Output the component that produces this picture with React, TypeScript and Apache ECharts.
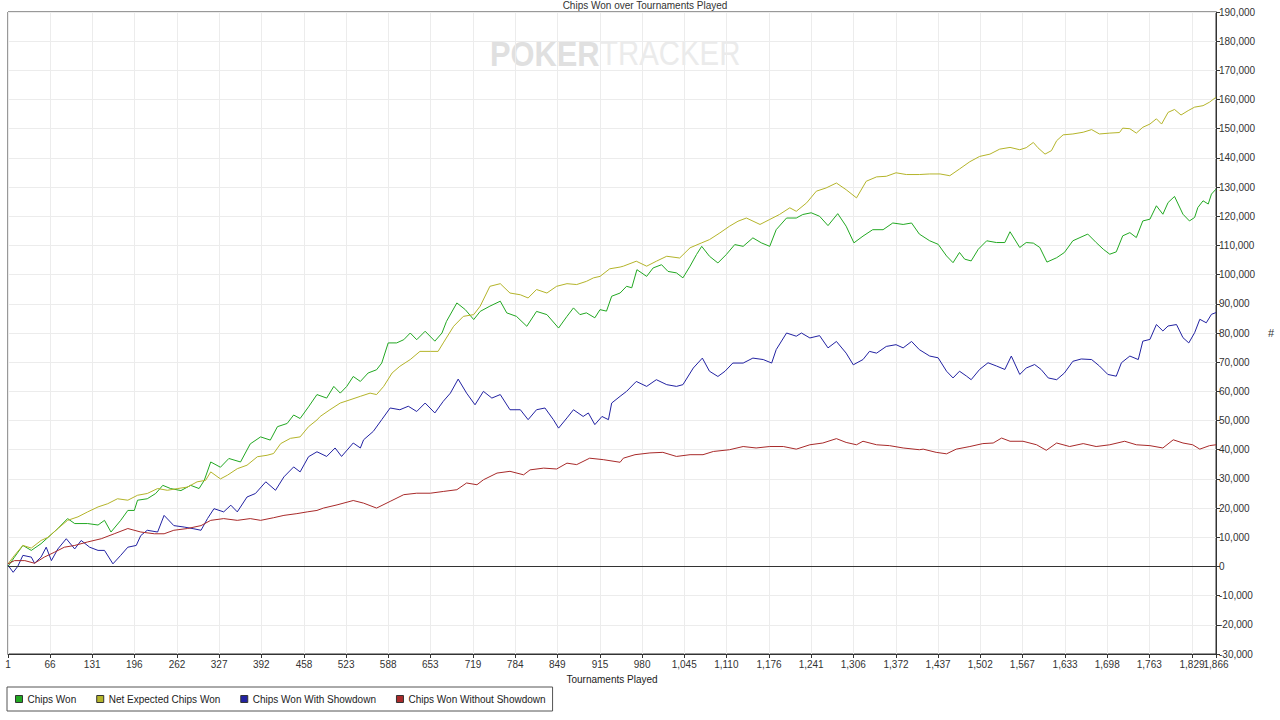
import React, { useEffect, useRef } from "react";
import * as echarts from "echarts";

const chartTitle = "Chips Won over Tournaments Played";
const xAxisName = "Tournaments Played";
const yAxisName = "#";
const seriesNames = ["Chips Won", "Net Expected Chips Won", "Chips Won With Showdown", "Chips Won Without Showdown"];
const seriesColors = ["#22a822", "#b4b42a", "#2222a2", "#a82a2a"];
const xTickLabels = [1, 66, 131, 196, 262, 327, 392, 458, 523, 588, 653, 719, 784, 849, 915, 980, 1045, 1110, 1176, 1241, 1306, 1372, 1437, 1502, 1567, 1633, 1698, 1763, 1829, 1866];

// [tournament, chips]
const chipsWon = [
  [1, 0], [11, 3200], [24, 7200], [37, 5500], [52, 7800], [68, 11000], [78, 13000], [93, 16400], [104, 14700], [124, 14700], [140, 14200], [150, 15800], [160, 11800], [175, 15800], [186, 19200], [196, 19200], [201, 22700], [216, 23200], [229, 25000], [240, 27800], [252, 26700], [268, 26000], [283, 27800], [296, 26700], [304, 29500], [314, 35800], [329, 34000], [342, 37000], [360, 35800], [375, 42000], [391, 44400], [406, 43300], [417, 47900], [432, 49000], [442, 51900], [452, 50700], [465, 54700],
  [478, 58900], [493, 57700], [504, 61700], [514, 59400], [524, 61700], [534, 65100], [545, 63400], [557, 66300], [570, 67400], [578, 69700], [588, 76600], [601, 76600], [612, 77700], [622, 80000], [632, 77700], [645, 80600], [660, 77200], [671, 80000], [678, 84000], [694, 90300], [707, 88000], [720, 84600], [730, 87400], [745, 89200], [761, 90900], [771, 86900], [786, 85700], [802, 82300], [817, 87400], [833, 86300], [851, 81700], [864, 85700], [874, 88600], [884, 86300], [894, 86900], [907, 85200], [915, 88000], [925, 87500], [933, 92600], [946, 93700],
  [956, 96000], [964, 95500], [972, 101700], [987, 99400], [997, 102300], [1010, 103400], [1020, 101100], [1033, 100600], [1043, 98900], [1054, 102900], [1064, 106900], [1072, 109700], [1084, 106300], [1097, 104000], [1110, 106900], [1123, 110300], [1136, 109700], [1151, 112600], [1164, 110900], [1177, 109700], [1187, 115400], [1203, 119400], [1218, 119400], [1228, 120600], [1241, 121200], [1254, 120000], [1267, 116800], [1282, 120900], [1295, 116600], [1307, 110900], [1321, 113200], [1336, 115400], [1352, 115400], [1367, 117700], [1383, 117200], [1396, 117700],
  [1408, 113900], [1424, 111600], [1437, 110400], [1450, 106400], [1460, 104100], [1470, 107600], [1478, 105300], [1488, 104700], [1499, 108700], [1512, 111600], [1527, 111000], [1540, 111000], [1548, 114700], [1563, 109300], [1573, 111000], [1584, 110800], [1594, 109300], [1605, 104300], [1620, 105800], [1632, 107600], [1645, 111600], [1656, 112700], [1668, 113900], [1681, 111000], [1692, 108700], [1702, 107000], [1712, 107800], [1722, 113300], [1733, 114400], [1743, 112700], [1753, 118400], [1764, 119000], [1774, 123600], [1784, 120700], [1792, 124700], [1802, 126800], [1815, 120700], [1825, 118400], [1833, 119600], [1838, 123000], [1846, 125300], [1854, 124200], [1859, 127600], [1866, 129300],
];

const netExpected = [
  [1, 900], [11, 3800], [24, 7200], [37, 6300], [52, 8900], [63, 10000], [78, 13000], [93, 15800], [109, 17000], [124, 18700], [140, 20400], [155, 21500], [170, 23200], [186, 22700], [201, 24400], [216, 25000], [232, 26700], [247, 26100], [263, 26700], [278, 27200], [293, 29000], [306, 29500], [314, 32400], [329, 30000], [340, 31300], [355, 33500], [370, 34700], [386, 37600], [401, 38100], [411, 38700], [422, 42100], [437, 43900], [452, 44400], [465, 47900], [478, 50200],
  [483, 51400], [498, 53700], [514, 56000], [529, 57100], [545, 58300], [560, 59400], [570, 58900], [581, 61700], [594, 66300], [606, 68600], [622, 70900], [637, 73700], [653, 73700], [665, 73700], [673, 76600], [689, 82300], [704, 85700], [720, 86300], [730, 89200], [745, 96000], [761, 96900], [776, 93700], [792, 93100], [804, 92000], [817, 94900], [833, 93700], [848, 96000], [864, 96900], [879, 96600], [894, 97700], [905, 98900], [915, 99400], [930, 102000], [946, 102600],
  [951, 102900], [971, 104600], [987, 102900], [1002, 104600], [1018, 106300], [1038, 105700], [1054, 109200], [1072, 110900], [1084, 112000], [1100, 114300], [1115, 116600], [1128, 118300], [1141, 119400], [1162, 117200], [1177, 118900], [1192, 120600], [1208, 122900], [1218, 121700], [1234, 124600], [1249, 128600], [1264, 129700], [1280, 131400], [1295, 129100], [1311, 126300], [1326, 132000], [1342, 133500], [1357, 133700], [1372, 134900], [1388, 134300], [1408, 134300],
  [1424, 134500], [1440, 134500], [1455, 133900], [1470, 136200], [1486, 138700], [1501, 140500], [1517, 141300], [1532, 143000], [1548, 143600], [1563, 142800], [1573, 143500], [1584, 145300], [1591, 143500], [1602, 141300], [1612, 142500], [1620, 145900], [1630, 147900], [1645, 148200], [1661, 148800], [1674, 149700], [1686, 148200], [1702, 148500], [1717, 148700], [1722, 150200], [1733, 150000], [1743, 148500], [1753, 150500], [1764, 151600], [1774, 153400], [1782, 151600], [1792, 155600], [1802, 156600], [1812, 154700], [1823, 156200], [1833, 157400], [1846, 157900], [1856, 159100], [1866, 160800],
];

const withShowdown = [
  [1, 400], [9, -2000], [16, 0], [24, 3800], [37, 3200], [42, 1100], [52, 3200], [60, 6600], [68, 2000], [78, 6000], [91, 9500], [104, 6000], [114, 8900], [127, 6600], [140, 5500], [150, 5500], [163, 900], [175, 3800], [186, 6600], [199, 7200], [206, 10600], [216, 12400], [232, 11800], [242, 17500], [257, 14000], [273, 13500], [288, 12900], [299, 12400], [309, 16400], [319, 19800], [334, 18700], [345, 21000], [355, 18700], [370, 23800], [383, 25000], [399, 29000], [414, 26100], [427, 30700], [442, 34100], [452, 32400], [465, 37600], [478, 39300],
  [493, 37700], [506, 40600], [516, 37700], [534, 42300], [545, 40600], [550, 43400], [565, 46300], [578, 50300], [591, 54300], [606, 53700], [619, 54900], [632, 53100], [645, 56000], [660, 52600], [673, 56600], [684, 59400], [696, 64200], [709, 59400], [722, 55400], [735, 60000], [748, 57700], [761, 58900], [776, 53700], [792, 53700], [804, 50300], [817, 53700], [830, 54300], [843, 50300], [851, 47400], [864, 50900], [874, 53700], [889, 51400], [897, 52600], [907, 48600], [918, 51400], [928, 50300], [933, 56000], [946, 58300],
  [956, 60000], [971, 63400], [987, 61700], [1002, 64000], [1018, 62300], [1033, 61700], [1043, 62300], [1059, 68000], [1073, 71400], [1084, 66900], [1097, 65100], [1108, 66900], [1120, 69700], [1136, 69700], [1151, 71400], [1167, 70900], [1180, 69700], [1187, 74300], [1203, 80000], [1218, 78900], [1226, 80000], [1239, 78300], [1254, 79100], [1267, 74900], [1280, 77100], [1295, 73100], [1306, 69100], [1321, 70900], [1331, 73700], [1342, 73100], [1357, 75400], [1372, 76000], [1383, 74900], [1396, 77100], [1408, 74300],
  [1424, 72100], [1437, 71500], [1450, 66900], [1460, 64600], [1470, 66900], [1481, 65200], [1488, 64000], [1501, 67500], [1514, 69800], [1527, 68700], [1540, 67500], [1550, 72100], [1563, 65800], [1573, 68000], [1586, 69200], [1596, 67500], [1607, 64600], [1620, 64000], [1632, 66300], [1645, 70300], [1658, 71100], [1674, 70900], [1686, 68700], [1699, 65800], [1712, 65200], [1720, 69800], [1733, 72100], [1746, 70900], [1753, 77200], [1764, 77800], [1774, 82900], [1784, 80700], [1792, 82400], [1805, 82900], [1815, 78400], [1824, 76600], [1833, 80100], [1841, 84700], [1851, 83500], [1859, 86400], [1866, 87000],
];

const withoutShowdown = [
  [1, 900], [11, 2000], [27, 2000], [42, 1100], [57, 3200], [73, 4900], [88, 6600], [104, 7200], [124, 8400], [145, 9500], [165, 11200], [186, 13000], [206, 11800], [227, 11200], [242, 11200], [257, 12400], [278, 13000], [299, 14000], [314, 15800], [334, 16400], [355, 15800], [375, 16400], [391, 15800], [411, 16700], [427, 17500], [447, 18100], [463, 18700], [478, 19200],
  [488, 20000], [509, 21100], [534, 22600], [550, 21700], [570, 20000], [591, 22300], [612, 24600], [632, 25100], [653, 25100], [673, 25700], [694, 26300], [709, 28600], [725, 28000], [735, 29700], [756, 32000], [776, 32600], [797, 31400], [807, 33100], [828, 33700], [848, 33400], [864, 35400], [879, 34900], [899, 37100], [920, 36600], [946, 35700],
  [951, 37100], [969, 38300], [992, 38900], [1012, 39100], [1033, 37700], [1054, 38300], [1074, 38300], [1090, 39400], [1115, 40000], [1136, 41100], [1156, 40600], [1177, 41100], [1198, 41100], [1218, 40200], [1239, 41700], [1259, 42300], [1280, 43800], [1295, 42500], [1311, 41700], [1321, 42900], [1342, 41700], [1362, 41400], [1383, 40600], [1408, 40000],
  [1414, 40200], [1434, 39100], [1450, 38600], [1465, 40200], [1486, 41100], [1506, 42100], [1522, 42300], [1535, 44000], [1548, 42900], [1568, 42900], [1589, 41700], [1604, 39800], [1620, 42300], [1640, 41100], [1661, 42100], [1681, 41100], [1702, 41700], [1725, 42900], [1743, 41700], [1764, 41400], [1784, 40600], [1800, 43400], [1815, 42300], [1830, 41700], [1841, 40200], [1856, 41400], [1866, 41700],
];

const seriesData = [chipsWon, netExpected, withShowdown, withoutShowdown];

const FONT = "'Liberation Sans', Arial, sans-serif";
const fmt = (v: number) => Math.round(v).toLocaleString("en-US");

export default function App() {
  const ref = useRef<HTMLDivElement>(null);
  useEffect(() => {
    if (!ref.current) return;
    const chart = echarts.init(ref.current, undefined, { renderer: "svg" });
    const xMin = xTickLabels[0];
    const xMax = xTickLabels[xTickLabels.length - 1];
    const labelStyle = { fontSize: 10, color: "#333", margin: 5, formatter: (v: number) => fmt(v) };
    const option: any = {
      animation: false,
      backgroundColor: "#ffffff",
      textStyle: { fontFamily: FONT },
      grid: {
        left: 8,
        right: 64,
        top: 12,
        bottom: 66,
        show: true,
        borderColor: "#333333",
        borderWidth: 1,
        backgroundColor: "transparent",
      },
      graphic: [
        {
          type: "text",
          x: 645,
          y: 0,
          z: 10,
          style: { text: chartTitle, fill: "#333", font: `10px ${FONT}`, textAlign: "center", textVerticalAlign: "top" },
        },
        {
          type: "text",
          x: 490,
          y: 36,
          z: 0,
          scaleX: 0.88,
          style: { text: "POKER", fill: "#e0e0e0", font: `bold 35px ${FONT}` },
        },
        {
          type: "text",
          x: 600,
          y: 36,
          z: 0,
          scaleX: 0.84,
          style: { text: "TRACKER", fill: "#ebebeb", font: `35px ${FONT}` },
        },
      ],
      legend: {
        left: 7,
        top: 687,
        orient: "horizontal",
        data: seriesNames,
        icon: "rect",
        itemWidth: 7,
        itemHeight: 7,
        itemGap: 20,
        padding: [7, 7, 7, 8],
        borderColor: "#555",
        borderWidth: 1,
        itemStyle: { borderColor: "#333", borderWidth: 1 },
        textStyle: { fontSize: 10, color: "#222", fontFamily: FONT },
      },
      xAxis: [
        {
          type: "value",
          position: "bottom",
          min: xMin,
          max: xMax,
          name: xAxisName,
          nameLocation: "middle",
          nameGap: 20,
          nameTextStyle: { fontSize: 10, color: "#222" },
          axisLine: { show: true, onZero: false, lineStyle: { color: "#333" } },
          axisTick: { show: true, length: 4, customValues: xTickLabels, lineStyle: { color: "#333" } },
          axisLabel: { ...labelStyle, customValues: xTickLabels.slice(0, -1), hideOverlap: false },
          splitLine: { show: true, lineStyle: { color: "#ececec", width: 1 } },
        },
        {
          type: "value",
          position: "bottom",
          offset: 0,
          min: xMin,
          max: xMax,
          axisLine: { show: false, onZero: false },
          axisTick: { show: false },
          axisLabel: { ...labelStyle, customValues: xTickLabels.slice(-1), showMaxLabel: true },
          splitLine: { show: false },
        },
      ],
      yAxis: {
        type: "value",
        position: "right",
        min: -30000,
        max: 190000,
        interval: 10000,
        name: yAxisName,
        nameLocation: "middle",
        nameGap: 52,
        nameRotate: 0,
        nameTextStyle: { fontSize: 11, color: "#333" },
        axisLine: { show: true, lineStyle: { color: "#333" } },
        axisTick: { show: true, length: 4, lineStyle: { color: "#333" } },
        axisLabel: { fontSize: 10, color: "#333", margin: 3, formatter: (v: number) => fmt(v) },
        splitLine: { show: true, lineStyle: { color: "#ececec", width: 1 } },
      },
      series: [
        ...seriesData.map((d, i) => ({
          name: seriesNames[i],
          type: "line",
          xAxisIndex: 0,
          data: d,
          showSymbol: false,
          symbol: "none",
          z: 3,
          lineStyle: { color: seriesColors[i], width: 1 },
          itemStyle: { color: seriesColors[i] },
        })),
        {
          name: "zero",
          type: "line",
          xAxisIndex: 0,
          data: [],
          z: 2,
          markLine: {
            silent: true,
            symbol: "none",
            label: { show: false },
            lineStyle: { color: "#333", width: 1, type: "solid" },
            data: [{ yAxis: 0 }],
          },
        },
      ],
    };
    chart.setOption(option);
    return () => chart.dispose();
  }, []);
  return (
    <div
      ref={ref}
      style={{ position: "fixed", left: 0, top: 0, width: 1280, height: 720, background: "#fff" }}
    />
  );
}
